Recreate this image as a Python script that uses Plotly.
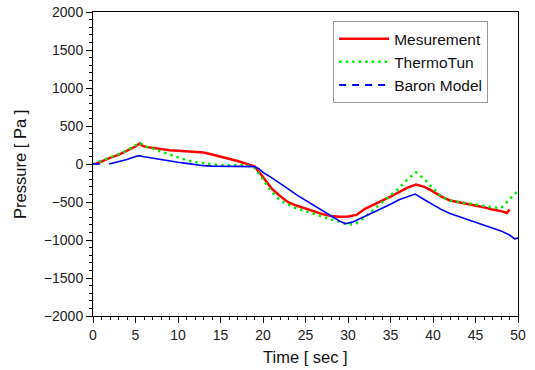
import plotly.graph_objects as go

# Measurement
t_meas = [0.3, 0.5, 1, 2, 3, 4, 5, 5.5, 5.8, 6.2, 7, 8, 9, 10, 11, 12, 13, 14, 15, 16, 17, 18, 19,
          20, 21, 22, 23, 24, 25, 26, 27, 28, 29, 30, 31, 32, 33, 34, 35, 36, 37, 38, 39, 40, 41,
          42, 43, 44, 45, 46, 47, 48, 48.7, 49]
p_meas = [0, 10, 40, 80, 120, 170, 230, 270, 240, 225, 210, 195, 180, 175, 165, 160, 150, 125, 100,
          70, 40, 5, -30, -170, -320, -420, -505, -550, -590, -630, -660, -685, -695, -690, -670,
          -590, -540, -480, -430, -370, -310, -270, -300, -360, -430, -480, -500, -525, -545, -570,
          -600, -620, -645, -600]

# ThermoTun
t_thermo = [0, 1, 2, 3, 4, 5, 5.5, 6, 7, 8, 9, 10, 11, 12, 13, 14, 15, 16, 17, 18, 19, 20, 21, 22,
            23, 24, 25, 26, 27, 28, 29, 30, 31, 32, 33, 34, 35, 36, 37, 38, 39, 40, 41, 42, 43, 44,
            45, 46, 47, 48, 49, 50]
p_thermo = [0, 40, 80, 130, 180, 240, 280, 240, 200, 160, 120, 85, 50, 25, 10, -5, -15, -18, -20,
            -15, -50, -200, -360, -480, -540, -590, -620, -660, -700, -730, -760, -800, -780, -700,
            -600, -500, -410, -320, -200, -110, -200, -320, -430, -480, -500, -515, -535, -550,
            -570, -580, -470, -350]

# Baron Model (None marks the gap in the trace)
t_baron = [0, 0.8, 1.3, 1.9, 3, 4, 5, 5.4, 6, 7, 8, 9, 10, 11, 12, 13, 14, 15, 16, 17, 18, 19, 19.5,
           20, 21, 22, 23, 24, 25, 26, 27, 28, 29, 29.7, 30.5, 31, 32, 33, 34, 35, 36, 37, 37.9,
           39, 40, 41, 42, 43, 44, 45, 46, 47, 48, 49, 49.6, 50]
p_baron = [0, 0, None, 0, 30, 60, 100, 110, 95, 75, 55, 38, 22, 8, -10, -22, -28, -30, -32, -33, -33,
           -35, -60, -110, -180, -250, -330, -410, -480, -550, -620, -690, -750, -785, -765, -740,
           -690, -640, -590, -530, -470, -430, -395, -470, -540, -600, -650, -690, -725, -765,
           -800, -840, -880, -935, -985, -975]

fig = go.Figure()
fig.add_trace(go.Scatter(x=t_meas, y=p_meas, mode="lines", name="Mesurement",
                         line=dict(color="#ff0000", width=2.5)))
fig.add_trace(go.Scatter(x=t_thermo, y=p_thermo, mode="lines", name="ThermoTun",
                         line=dict(color="#00ee00", width=2.5, dash="2.5px,4px")))
fig.add_trace(go.Scatter(x=t_baron, y=p_baron, mode="lines", name="Baron Model",
                         line=dict(color="#0000ff", width=1.6), showlegend=False,
                         connectgaps=False))
fig.add_trace(go.Scatter(x=[None], y=[None], mode="lines", name="Baron Model",
                         line=dict(color="#0000ff", width=2, dash="7px,6px")))

axis_font = dict(family="Liberation Sans, Arial, sans-serif", size=14, color="#222")
fig.update_layout(
    width=535, height=370,
    margin=dict(l=93, r=17, t=12, b=54, autoexpand=False),
    paper_bgcolor="white", plot_bgcolor="white",
    font=dict(family="Liberation Sans, Arial, sans-serif", color="#111"),
    legend=dict(x=0.565, y=0.97, xanchor="left", yanchor="top",
                bordercolor="#999", borderwidth=1, bgcolor="white",
                font=dict(size=15.5, color="#111"), tracegroupgap=0, itemwidth=50),
    showlegend=True,
    annotations=[
        dict(text="Time [ sec ]", xref="paper", yref="paper", x=0.5, y=-0.135,
             xanchor="center", yanchor="middle", showarrow=False,
             font=dict(size=16.5, color="#111")),
        dict(text="Pressure [ Pa ]", xref="paper", yref="paper", x=-0.172, y=0.5,
             xanchor="center", yanchor="middle", showarrow=False, textangle=-90,
             font=dict(size=16.5, color="#111")),
    ],
)
fig.update_xaxes(range=[0, 50], tickvals=[0, 5, 10, 15, 20, 25, 30, 35, 40, 45, 50],
                 showgrid=False, zeroline=False, showline=True, linecolor="black", linewidth=1,
                 mirror=True, ticks="outside", ticklen=6, tickcolor="black", tickfont=axis_font,
                 minor=dict(dtick=1, ticks="outside", ticklen=3, tickcolor="black"),
                 automargin=False)
fig.update_yaxes(range=[-2000, 2000], tickvals=list(range(-2000, 2001, 500)),
                 showgrid=False, zeroline=False, showline=True, linecolor="black", linewidth=1,
                 mirror=True, ticks="outside", ticklen=6, tickcolor="black", tickfont=axis_font,
                 minor=dict(dtick=100, ticks="outside", ticklen=3, tickcolor="black"),
                 automargin=False)

fig.write_html("out.html")
